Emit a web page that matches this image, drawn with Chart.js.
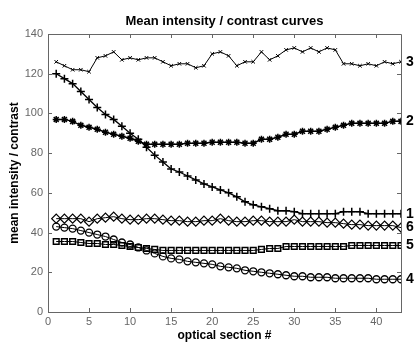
<!DOCTYPE html>
<html>
<head>
<meta charset="utf-8">
<script src="https://cdn.jsdelivr.net/npm/chart.js@4/dist/chart.umd.min.js"></script>
<style>
  html, body { margin: 0; padding: 0; background: #fff; }
  #wrap { width: 415px; height: 343px; }
</style>
</head>
<body>
<div id="wrap"><canvas id="myChart" width="415" height="343"></canvas></div>
<script>
// optical sections on the x axis
const sections = [1,2,3,4,5,6,7,8,9,10,11,12,13,14,15,16,17,18,19,20,21,22,23,24,25,26,27,28,29,30,31,32,33,34,35,36,37,38,39,40,41,42,43];

// curves
const curve1 = [120,117.5,115,111,107,103,99.5,97,93.5,90,87,83,79,75.5,72,70.5,68.5,66.5,64.5,63,61.5,60,58,55.5,54,53,52,51,51,50.5,49.5,49.5,49.5,49.5,49.5,50.5,50.5,50.5,49.5,49.5,49.5,49.5,49.5];
const curve2 = [97,97,96,94,93,92,90.5,89.5,88.5,87.5,86,84.5,84.5,84.5,84.5,84.5,85,85,85,85.5,85.5,85.5,85.5,85,85,87,87,88,89.5,89.5,91,91,91,92,93,94,95,95,95,95,95,96,96];
const curve3 = [126,124,122,122,121,128,129,131,127,128,127,128,128,126,124,125,125,123,124,130,131,129,124,126,126,131,127,129,132,133,131,133,131,133,132,125,125,124,125,124,126,125,126];
const curve4 = [43,42.5,42,41,40,39,38,36.5,35,34,32.5,31,29.5,28,27,26.5,25.5,25,24.5,24,23,22.5,22,21,20.5,20,19.5,19,18.5,18,18,17.5,17.5,17.5,17,17,17,17,17,16.5,16.5,16.5,16.5];
const curve5 = [35.5,35.5,35.5,35,34.5,34.5,34,34,33.5,33,32.5,32,31.5,31,31,31,31,31,31,31,31,31,31,31,31,31.5,32,32,33,33,33,33,33,33,33,33,33.5,33.5,33.5,33.5,33.5,33.5,33.5];
const curve6 = [47,47,47,47,45.5,47,47.5,48,47,46.5,46.5,47,47,46.5,46,46,45.5,45.5,46,46,47,46,45.5,45.5,46,46,45.5,45.5,45.5,46.5,45.5,45.5,45.5,45,45,44.5,44,44,43.5,43.5,43.5,43.5,42.5];

const curveNames = ['1','2','3','4','5','6'];
const xTicks = [0,5,10,15,20,25,30,35,40];
const yTicks = [0,20,40,60,80,100,120,140];

const chartTitle = 'Mean intensity / contrast curves';
const xTitle = 'optical section #';
const yTitle = 'mean intensity / contrast';

const FONT = '"Liberation Sans", Arial, Helvetica, sans-serif';
const AXIS = '#666666';

function pts(values) {
  return values.map((v, i) => ({ x: sections[i], y: v }));
}

function ds(name, values, style, radius, width, lineW) {
  return {
    label: name,
    data: pts(values),
    borderColor: '#000',
    backgroundColor: 'rgba(0,0,0,0)',
    borderWidth: lineW,
    pointStyle: style,
    pointRadius: radius,
    pointBorderWidth: width,
    pointBorderColor: '#000',
    pointBackgroundColor: 'rgba(0,0,0,0)',
    tension: 0
  };
}

// titre, cadre haut/droite, petits ticks vers l'intérieur et numéros des courbes
const decorations = {
  id: 'decorations',
  afterDraw(chart) {
    const ctx = chart.ctx;
    const a = chart.chartArea;
    const xs = chart.scales.x;
    const ys = chart.scales.y;
    ctx.save();

    ctx.strokeStyle = AXIS;
    ctx.lineWidth = 1;
    ctx.beginPath();
    ctx.moveTo(a.left, a.top + 0.5);
    ctx.lineTo(a.right + 0.5, a.top + 0.5);
    ctx.lineTo(a.right + 0.5, a.bottom);
    ctx.stroke();

    ctx.beginPath();
    xTicks.forEach(v => {
      const px = Math.round(xs.getPixelForValue(v)) + 0.5;
      ctx.moveTo(px, a.bottom); ctx.lineTo(px, a.bottom - 4);
      ctx.moveTo(px, a.top); ctx.lineTo(px, a.top + 4);
    });
    yTicks.forEach(v => {
      const py = Math.round(ys.getPixelForValue(v)) + 0.5;
      ctx.moveTo(a.left, py); ctx.lineTo(a.left + 4, py);
      ctx.moveTo(a.right, py); ctx.lineTo(a.right - 4, py);
    });
    ctx.stroke();

    ctx.fillStyle = '#000';
    ctx.font = 'bold 13px ' + FONT;
    ctx.textAlign = 'center';
    ctx.textBaseline = 'middle';
    ctx.fillText(chartTitle, (a.left + a.right) / 2, 21);

    ctx.font = 'bold 14px ' + FONT;
    ctx.textAlign = 'left';
    chart.data.datasets.forEach(d => {
      const last = d.data[d.data.length - 1];
      ctx.fillText(d.label, a.right + 5, ys.getPixelForValue(last.y));
    });
    ctx.restore();
  }
};

const ctx = document.getElementById('myChart').getContext('2d');
const myChart = new Chart(ctx, {
  type: 'line',
  data: {
    datasets: [
      ds(curveNames[2], curve3, 'crossRot', 2.5, 1, 1),
      ds(curveNames[1], curve2, 'star', 3.5, 1.5, 1.5),
      ds(curveNames[0], curve1, 'cross', 4, 1.5, 1.3),
      ds(curveNames[5], curve6, 'rectRot', 4.5, 1.2, 1),
      ds(curveNames[4], curve5, 'rect', 4, 1.5, 1),
      ds(curveNames[3], curve4, 'circle', 3.5, 1.3, 1)
    ]
  },
  options: {
    responsive: false,
    animation: false,
    devicePixelRatio: 1,
    layout: { padding: { top: 34, right: 14, left: 0, bottom: 0 } },
    plugins: {
      legend: { display: false },
      tooltip: { enabled: false },
      title: { display: false }
    },
    scales: {
      x: {
        type: 'linear',
        min: 0,
        max: 43,
        afterBuildTicks: s => { s.ticks = xTicks.map(v => ({ value: v })); },
        afterFit: s => { s.height = 31; },
        grid: { display: false, drawTicks: false },
        border: { display: true, color: AXIS, width: 1 },
        ticks: { color: AXIS, font: { family: FONT, size: 11 }, padding: 3, maxRotation: 0 },
        title: { display: true, text: xTitle, color: '#000', font: { family: FONT, size: 12, weight: 'bold' }, padding: { top: 0, bottom: 0 } }
      },
      y: {
        min: 0,
        max: 140,
        afterBuildTicks: s => { s.ticks = yTicks.map(v => ({ value: v })); },
        afterFit: s => { s.width = 48; },
        grid: { display: false, drawTicks: false },
        border: { display: true, color: AXIS, width: 1 },
        ticks: { color: AXIS, font: { family: FONT, size: 11 }, padding: 5 },
        title: { display: true, text: yTitle, color: '#000', font: { family: FONT, size: 12, weight: 'bold' }, padding: { top: 7, bottom: 0 } }
      }
    }
  },
  plugins: [decorations]
});
</script>
</body>
</html>
